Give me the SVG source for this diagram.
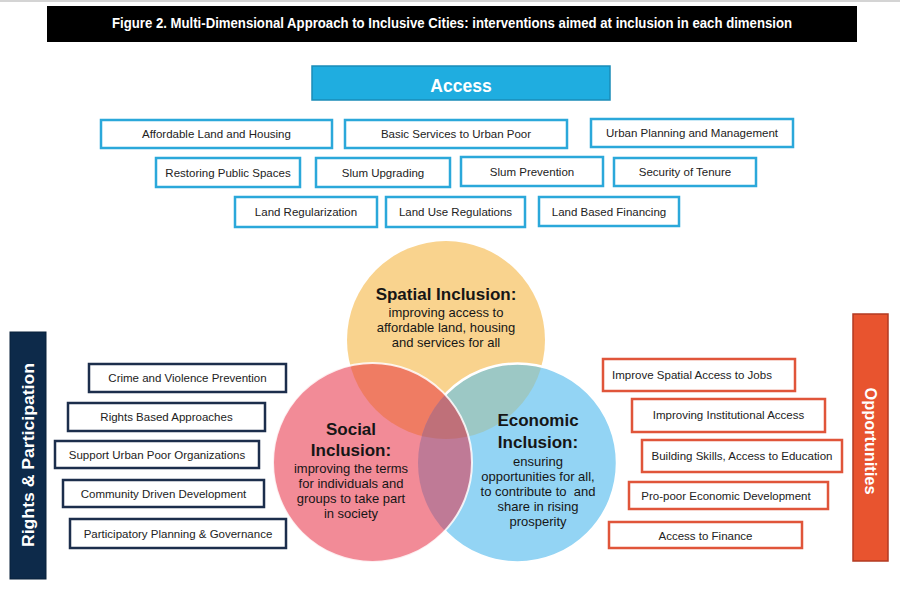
<svg xmlns="http://www.w3.org/2000/svg" width="900" height="591" viewBox="0 0 900 591">
<style>
  text { font-family: "Liberation Sans", Arial, sans-serif; }
  .box { fill: #ffffff; stroke-width: 2.5; }
  .acc { stroke: #2BA8DA; }
  .rp { stroke: #1C2E4C; }
  .op { stroke: #E0553A; }
  .bt { font-size: 11.5px; fill: #222222; text-anchor: middle; }
  .ct { font-size: 17px; font-weight: bold; fill: #161616; text-anchor: middle; }
  .cs { font-size: 13px; fill: #161616; text-anchor: middle; }
  .wt { fill: #ffffff; font-weight: bold; text-anchor: middle; }
</style>
<defs>
  <clipPath id="clipSpatial"><circle cx="446" cy="340" r="99"/></clipPath>
  <clipPath id="clipSocial"><circle cx="372.5" cy="462.5" r="99.5"/></clipPath>
  <clipPath id="clipEco"><circle cx="517.5" cy="463" r="99.5"/></clipPath>
  <mask id="maskNoSocial">
    <rect x="0" y="0" width="900" height="591" fill="#ffffff"/>
    <circle cx="372.5" cy="462.5" r="99.5" fill="#000000"/>
  </mask>
</defs>
<rect x="0" y="0" width="900" height="591" fill="#ffffff"/>
<rect x="0" y="0" width="900" height="2" fill="#d4d4d4"/>

<g id="title">
  <rect x="47" y="6" width="810" height="36" fill="#000000"/>
  <text class="wt" x="452" y="28" font-size="14" textLength="680" lengthAdjust="spacingAndGlyphs">Figure 2. Multi-Dimensional Approach to Inclusive Cities: interventions aimed at inclusion in each dimension</text>
</g>

<g id="access">
  <rect x="312" y="66" width="298" height="34" fill="#1FADE0" stroke="#1A8CB8" stroke-width="1.5"/>
  <text class="wt" x="461" y="92" font-size="17.5">Access</text>
</g>

<g id="access-affordable"><rect class="box acc" x="101" y="120" width="231" height="28"/><text class="bt" x="216.5" y="138">Affordable Land and Housing</text></g>
<g id="access-basic"><rect class="box acc" x="345" y="120" width="222" height="28"/><text class="bt" x="456" y="138">Basic Services to Urban Poor</text></g>
<g id="access-urban"><rect class="box acc" x="591" y="119" width="202" height="28"/><text class="bt" x="692" y="137">Urban Planning and Management</text></g>
<g id="access-public"><rect class="box acc" x="156" y="158" width="144" height="29"/><text class="bt" x="228" y="177">Restoring Public Spaces</text></g>
<g id="access-upgrading"><rect class="box acc" x="316" y="158" width="134" height="29"/><text class="bt" x="383" y="177">Slum Upgrading</text></g>
<g id="access-prevention"><rect class="box acc" x="461" y="157" width="142" height="29"/><text class="bt" x="532" y="176">Slum Prevention</text></g>
<g id="access-tenure"><rect class="box acc" x="614" y="158" width="142" height="28"/><text class="bt" x="685" y="176">Security of Tenure</text></g>
<g id="access-regularization"><rect class="box acc" x="235" y="197" width="142" height="30"/><text class="bt" x="306" y="216">Land Regularization</text></g>
<g id="access-landuse"><rect class="box acc" x="386" y="197" width="139" height="30"/><text class="bt" x="455.5" y="216">Land Use Regulations</text></g>
<g id="access-financing"><rect class="box acc" x="539" y="197" width="140" height="29"/><text class="bt" x="609" y="216">Land Based Financing</text></g>

<g id="rights">
  <rect x="10" y="332" width="36" height="247" fill="#0D2A4A" stroke="#08203A" stroke-width="1"/>
  <text class="wt" x="0" y="0" font-size="17" textLength="184" lengthAdjust="spacingAndGlyphs" transform="translate(34,455) rotate(-90)">Rights &amp; Participation</text>
</g>
<g id="rp-crime"><rect class="box rp" x="89" y="364" width="197" height="28"/><text class="bt" x="187.5" y="382">Crime and Violence Prevention</text></g>
<g id="rp-rights"><rect class="box rp" x="68" y="403" width="197" height="28"/><text class="bt" x="166.5" y="421">Rights Based Approaches</text></g>
<g id="rp-support"><rect class="box rp" x="55" y="441" width="204" height="27"/><text class="bt" x="157" y="459">Support Urban Poor Organizations</text></g>
<g id="rp-community"><rect class="box rp" x="63" y="480" width="201" height="27"/><text class="bt" x="163.5" y="498">Community Driven Development</text></g>
<g id="rp-participatory"><rect class="box rp" x="70" y="519" width="216" height="29"/><text class="bt" x="178" y="538">Participatory Planning &amp; Governance</text></g>

<g id="opportunities">
  <rect x="853" y="314" width="35" height="247" fill="#E8542F" stroke="#B33A22" stroke-width="1.5"/>
  <text class="wt" x="0" y="0" font-size="16" textLength="107" lengthAdjust="spacingAndGlyphs" transform="translate(865,441) rotate(90)">Opportunities</text>
</g>
<g id="op-jobs"><rect class="box op" x="603" y="359" width="192" height="32"/><text class="bt" x="692" y="379">Improve Spatial Access to Jobs</text></g>
<g id="op-institutional"><rect class="box op" x="632" y="399" width="193" height="33"/><text class="bt" x="728.5" y="419">Improving Institutional Access</text></g>
<g id="op-skills"><rect class="box op" x="642" y="440" width="200" height="32"/><text class="bt" x="742" y="460">Building Skills, Access to Education</text></g>
<g id="op-propoor"><rect class="box op" x="629" y="482" width="199" height="27"/><text class="bt" x="726" y="500">Pro-poor Economic Development</text></g>
<g id="op-finance"><rect class="box op" x="609" y="522" width="193" height="26"/><text class="bt" x="705.5" y="540">Access to Finance</text></g>

<g id="venn">
  <circle cx="446" cy="340" r="99" fill="#F9D38E"/>
  <circle cx="517.5" cy="463" r="99.5" fill="#93D4F4"/>
  <circle cx="372.5" cy="462.5" r="99.5" fill="#F28B97"/>
  <circle cx="372.5" cy="462.5" r="99.5" fill="#EF7C63" clip-path="url(#clipSpatial)"/>
  <g mask="url(#maskNoSocial)"><circle cx="517.5" cy="463" r="99.5" fill="#9CC8C5" clip-path="url(#clipSpatial)"/></g>
  <circle cx="372.5" cy="462.5" r="99.5" fill="#BF7A96" clip-path="url(#clipEco)"/>
  <g clip-path="url(#clipEco)"><circle cx="446" cy="340" r="99" fill="#BF7079" clip-path="url(#clipSocial)"/></g>
  <circle cx="517.5" cy="463" r="99.5" fill="none" stroke="#ffffff" stroke-width="2.5" mask="url(#maskNoSocial)"/>
  <circle cx="372.5" cy="462.5" r="99.5" fill="none" stroke="#ffffff" stroke-width="2" stroke-opacity="0.85"/>
</g>

<g id="spatial">
  <text class="ct" x="446" y="300" font-size="16.5">Spatial Inclusion:</text>
  <text class="cs" x="446" y="317">improving access to</text>
  <text class="cs" x="446" y="332">affordable land, housing</text>
  <text class="cs" x="446" y="347">and services for all</text>
</g>
<g id="social">
  <text class="ct" x="351" y="435" font-size="17.5">Social</text>
  <text class="ct" x="351" y="456" font-size="17.5">Inclusion:</text>
  <text class="cs" x="351" y="473">improving the terms</text>
  <text class="cs" x="351" y="488">for individuals and</text>
  <text class="cs" x="351" y="503">groups to take part</text>
  <text class="cs" x="351" y="518">in society</text>
</g>
<g id="economic">
  <text class="ct" x="538" y="426" font-size="17.5">Economic</text>
  <text class="ct" x="538" y="448" font-size="17.5">Inclusion:</text>
  <text class="cs" x="538" y="466">ensuring</text>
  <text class="cs" x="538" y="481">opportunities for all,</text>
  <text class="cs" x="538" y="496" xml:space="preserve">to contribute to  and</text>
  <text class="cs" x="538" y="511">share in rising</text>
  <text class="cs" x="538" y="526">prosperity</text>
</g>
<g id="connectors"/>
</svg>
